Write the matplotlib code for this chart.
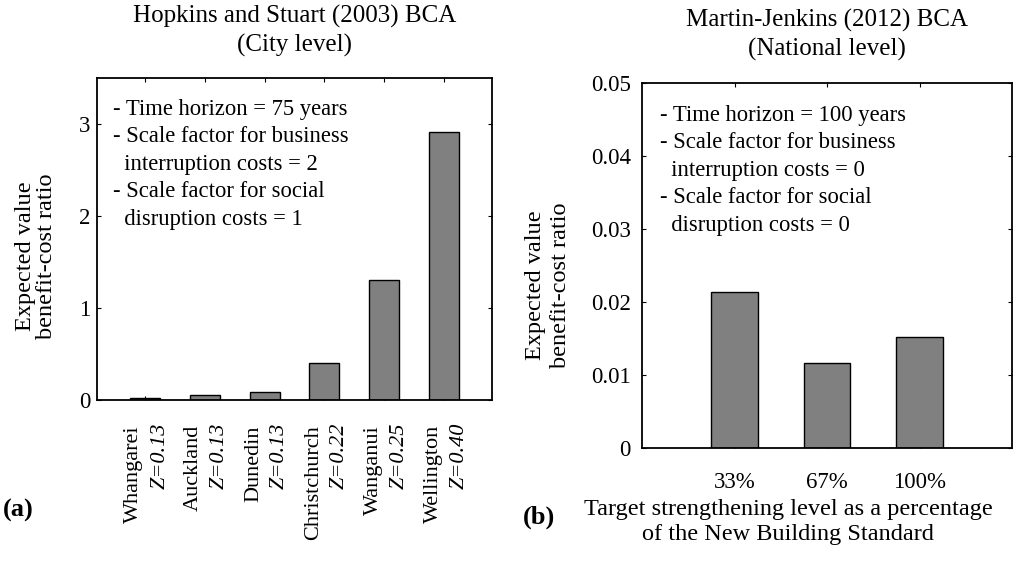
import matplotlib.pyplot as plt
from matplotlib.transforms import offset_copy

plt.rcParams['font.family'] = ['Liberation Serif', 'DejaVu Serif']

# Panel (a): city level BCA
cities = ["Whangarei", "Auckland", "Dunedin", "Christchurch", "Wanganui", "Wellington"]
zones = ["Z=0.13", "Z=0.13", "Z=0.13", "Z=0.22", "Z=0.25", "Z=0.40"]
city_bcr = [0.025, 0.05, 0.09, 0.40, 1.30, 2.91]
yticks_a = [0, 1, 2, 3]

# Panel (b): national level BCA
levels = ["33%", "67%", "100%"]
national_bcr = [0.0214, 0.0117, 0.0152]
yticks_b = [0, 0.01, 0.02, 0.03, 0.04, 0.05]
yticklabels_b = ["0", "0.01", "0.02", "0.03", "0.04", "0.05"]

notes_a = ("- Time horizon = 75 years\n- Scale factor for business\n"
           "  interruption costs = 2\n- Scale factor for social\n  disruption costs = 1")
notes_b = ("- Time horizon = 100 years\n- Scale factor for business\n"
           "  interruption costs = 0\n- Scale factor for social\n  disruption costs = 0")

fig = plt.figure(figsize=(10.25, 5.62), dpi=100)
ax1 = fig.add_axes([97 / 1025, 1 - 400 / 562, 395 / 1025, 322 / 562])
ax2 = fig.add_axes([642 / 1025, 1 - 448 / 562, 370 / 1025, 365 / 562])

bar_style = dict(width=0.5, color="#808080", edgecolor="black", linewidth=1.0)

for ax in (ax1, ax2):
    ax.set_axisbelow(True)
    ax.tick_params(direction="in", length=3, width=0.8, top=True, right=True,
                   labelsize=16.5)
    for s in ax.spines.values():
        s.set_linewidth(1.3)

# ---- panel (a)
xa = list(range(1, len(cities) + 1))
ax1.bar(xa, city_bcr, **bar_style)
ax1.set_xlim(0.2, 6.8)
ax1.set_ylim(0, 3.5)
ax1.set_yticks(yticks_a)
ax1.set_xticks(xa)
ax1.set_xticklabels([])
ax1.tick_params(axis="y", pad=5)

trans = ax1.get_xaxis_transform()
for x, city, z in zip(xa, cities, zones):
    t1 = offset_copy(trans, fig=fig, x=-11, y=-25, units="dots")
    t2 = offset_copy(trans, fig=fig, x=15, y=-23, units="dots")
    ax1.text(x, 0, city, transform=t1, rotation=90, ha="center", va="top", fontsize=16)
    ax1.text(x, 0, z, transform=t2, rotation=90, ha="center", va="top", fontsize=16,
             style="italic")

ax1.text(0.04, 0.935, notes_a, transform=ax1.transAxes, ha="left", va="top",
         fontsize=16.3, linespacing=1.4)
ax1.text(0.5, 1.065, "Hopkins and Stuart (2003) BCA\n(City level)", transform=ax1.transAxes,
         ha="center", va="bottom", fontsize=18, linespacing=1.35)
ax1.text(-0.155, 0.447, "Expected value\nbenefit-cost ratio", transform=ax1.transAxes,
         rotation=90, ha="center", va="center", fontsize=17.5, linespacing=1.0)

# ---- panel (b)
xb = list(range(1, len(levels) + 1))
ax2.bar(xb, national_bcr, **bar_style)
ax2.set_xlim(0, 4)
ax2.set_ylim(0, 0.05)
ax2.set_yticks(yticks_b)
ax2.set_yticklabels(yticklabels_b)
ax2.set_xticks(xb)
ax2.set_xticklabels(levels)
ax2.tick_params(axis="x", pad=17)
ax2.tick_params(axis="y", pad=8)

ax2.text(0.049, 0.94, notes_b, transform=ax2.transAxes, ha="left", va="top",
         fontsize=16.3, linespacing=1.4)
ax2.text(0.5, 1.06, "Martin-Jenkins (2012) BCA\n(National level)", transform=ax2.transAxes,
         ha="center", va="bottom", fontsize=18, linespacing=1.35)
ax2.text(-0.255, 0.447, "Expected value\nbenefit-cost ratio", transform=ax2.transAxes,
         rotation=90, ha="center", va="center", fontsize=17.5, linespacing=1.25)

fig.text(788 / 1025, 1 - 522 / 562, "Target strengthening level as a percentage\nof the New Building Standard",
         ha="center", va="center", fontsize=17.5, linespacing=1.3)

fig.text(3 / 1025, 1 - 510 / 562, "(a)", ha="left", va="center", fontsize=19, fontweight="bold")
fig.text(523 / 1025, 1 - 517 / 562, "(b)", ha="left", va="center", fontsize=19, fontweight="bold")

fig.savefig("out.png", dpi=100)
